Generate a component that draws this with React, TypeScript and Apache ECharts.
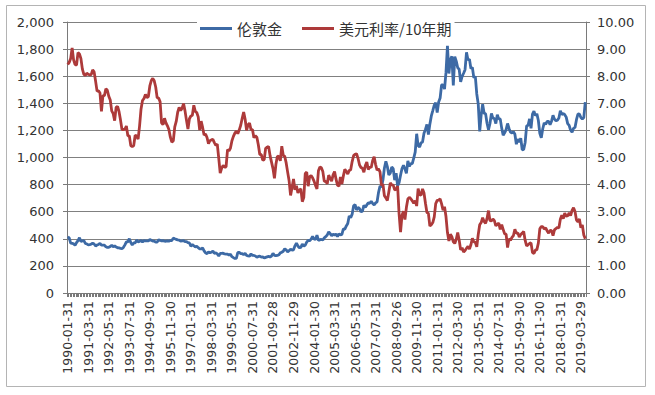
import React, { useEffect, useRef } from "react";
import * as echarts from "echarts";

const seriesNames = ["伦敦金", "美元利率/10年期"];

const tickLabels = [
  "1990-01-31", "1991-03-31", "1992-05-31", "1993-07-31", "1994-09-30", "1995-11-30",
  "1997-01-31", "1998-03-31", "1999-05-31", "2000-07-31", "2001-09-28", "2002-11-29",
  "2004-01-30", "2005-03-31", "2006-05-31", "2007-07-31", "2008-09-26", "2009-11-30",
  "2011-01-31", "2012-03-30", "2013-05-31", "2014-07-31", "2015-09-30", "2016-11-30",
  "2018-01-31", "2019-03-29",
];

// Monthly, 1990-01 .. 2019-06
const goldPrice = [
  415, 407, 368, 367, 363, 352, 372, 387, 408, 380, 384, 386,
  366, 362, 355, 357, 360, 368, 362, 347, 354, 358, 366, 353,
  354, 353, 341, 337, 337, 343, 353, 340, 349, 339, 334, 333,
  330, 328, 337, 355, 377, 378, 401, 372, 355, 369, 370, 391,
  378, 381, 389, 376, 387, 385, 384, 385, 394, 389, 383, 383,
  375, 376, 392, 389, 385, 387, 383, 382, 384, 383, 387, 387,
  405, 400, 396, 392, 390, 383, 385, 387, 379, 379, 371, 369,
  345, 358, 349, 340, 345, 334, 326, 325, 332, 311, 296, 290,
  303, 297, 301, 310, 293, 296, 288, 273, 293, 292, 294, 288,
  287, 287, 279, 286, 268, 261, 255, 255, 299, 299, 291, 290,
  283, 293, 277, 274, 272, 289, 277, 277, 273, 264, 270, 272,
  265, 267, 258, 263, 267, 270, 266, 273, 293, 278, 275, 277,
  282, 296, 301, 308, 326, 318, 304, 312, 323, 317, 319, 348,
  368, 347, 334, 337, 361, 346, 354, 375, 388, 386, 398, 417,
  399, 395, 427, 388, 393, 395, 391, 407, 416, 428, 452, 438,
  422, 435, 428, 435, 417, 435, 429, 433, 473, 470, 495, 513,
  569, 556, 582, 644, 653, 613, 632, 623, 599, 604, 646, 632,
  650, 665, 662, 677, 660, 650, 665, 673, 743, 789, 783, 834,
  923, 971, 933, 871, 885, 930, 918, 833, 884, 790, 814, 869,
  919, 942, 916, 883, 975, 934, 955, 955, 996, 1040, 1175, 1087,
  1078, 1109, 1115, 1179, 1207, 1244, 1169, 1246, 1307, 1346, 1386, 1405,
  1332, 1409, 1439, 1535, 1536, 1505, 1628, 1825, 1620, 1722, 1746, 1531,
  1744, 1711, 1662, 1651, 1558, 1598, 1622, 1648, 1776, 1719, 1726, 1657,
  1664, 1588, 1598, 1469, 1394, 1192, 1314, 1394, 1326, 1324, 1253, 1205,
  1251, 1326, 1291, 1288, 1250, 1315, 1285, 1285, 1217, 1164, 1182, 1206,
  1251, 1214, 1187, 1180, 1191, 1172, 1098, 1135, 1114, 1142, 1057, 1060,
  1111, 1234, 1237, 1285, 1215, 1320, 1342, 1309, 1322, 1273, 1178, 1146,
  1212, 1255, 1245, 1266, 1266, 1243, 1268, 1312, 1283, 1271, 1275, 1291,
  1345, 1317, 1325, 1316, 1298, 1250, 1237, 1201, 1187, 1215, 1222, 1279,
  1321, 1320, 1295, 1284, 1295, 1409,
];

const treasury10y = [
  8.43, 8.51, 8.65, 9.04, 8.6, 8.43, 8.41, 8.87, 8.82, 8.65, 8.26, 8.07,
  8.03, 8.11, 8.07, 8.05, 8.06, 8.23, 8.16, 7.82, 7.45, 7.46, 7.38, 6.7,
  7.28, 7.28, 7.54, 7.48, 7.26, 7.12, 6.72, 6.62, 6.36, 6.85, 6.89, 6.69,
  6.38, 6.03, 6.03, 6.05, 6.16, 5.8, 5.8, 5.44, 5.4, 5.44, 5.82, 5.79,
  5.68, 6.17, 6.79, 7.1, 7.18, 7.33, 7.21, 7.25, 7.64, 7.84, 7.92, 7.83,
  7.6, 7.2, 7.2, 7.06, 6.28, 6.21, 6.45, 6.28, 6.17, 6.03, 5.75, 5.57,
  5.61, 6.13, 6.33, 6.67, 6.85, 6.73, 6.82, 6.99, 6.72, 6.37, 6.05, 6.43,
  6.53, 6.56, 6.93, 6.7, 6.66, 6.5, 6.01, 6.34, 6.11, 5.83, 5.87, 5.74,
  5.51, 5.62, 5.65, 5.67, 5.55, 5.45, 5.49, 4.98, 4.42, 4.61, 4.71, 4.65,
  4.65, 5.29, 5.24, 5.35, 5.62, 5.78, 5.9, 5.97, 5.88, 6.02, 6.19, 6.45,
  6.68, 6.41, 6.0, 6.21, 6.27, 6.03, 6.03, 5.73, 5.8, 5.75, 5.47, 5.11,
  5.11, 4.9, 4.92, 5.34, 5.38, 5.41, 5.07, 4.83, 4.59, 4.23, 4.75, 5.05,
  5.03, 4.88, 5.42, 5.08, 5.04, 4.8, 4.46, 4.14, 3.6, 3.89, 4.21, 3.81,
  3.96, 3.69, 3.8, 3.84, 3.37, 3.52, 4.41, 4.46, 3.94, 4.29, 4.33, 4.25,
  4.13, 3.97, 3.84, 4.51, 4.65, 4.62, 4.48, 4.12, 4.12, 4.03, 4.35, 4.22,
  4.13, 4.36, 4.48, 4.2, 3.98, 3.94, 4.28, 4.02, 4.32, 4.56, 4.49, 4.39,
  4.52, 4.55, 4.85, 5.07, 5.12, 5.14, 4.97, 4.73, 4.63, 4.6, 4.46, 4.7,
  4.83, 4.56, 4.65, 4.63, 4.89, 5.03, 4.74, 4.53, 4.58, 4.47, 3.97, 4.02,
  3.59, 3.51, 3.41, 3.73, 4.06, 3.99, 3.98, 3.81, 3.82, 3.95, 2.93, 2.25,
  2.87, 3.02, 2.71, 3.16, 3.47, 3.53, 3.48, 3.4, 3.31, 3.41, 3.21, 3.85,
  3.63, 3.61, 3.84, 3.69, 3.31, 2.97, 2.94, 2.47, 2.52, 2.6, 2.81, 3.3,
  3.42, 3.43, 3.47, 3.29, 3.06, 3.18, 2.82, 2.23, 1.92, 2.17, 2.08, 1.89,
  1.83, 1.98, 2.23, 1.95, 1.59, 1.67, 1.51, 1.57, 1.65, 1.72, 1.62, 1.78,
  2.02, 1.89, 1.87, 1.7, 2.16, 2.52, 2.6, 2.78, 2.64, 2.57, 2.75, 3.04,
  2.67, 2.66, 2.73, 2.67, 2.48, 2.53, 2.58, 2.35, 2.52, 2.35, 2.18, 2.17,
  1.68, 2.0, 1.94, 2.05, 2.12, 2.35, 2.2, 2.22, 2.06, 2.16, 2.21, 2.27,
  1.94, 1.74, 1.78, 1.83, 1.85, 1.49, 1.46, 1.58, 1.6, 1.84, 2.37, 2.45,
  2.45, 2.36, 2.4, 2.29, 2.21, 2.31, 2.3, 2.12, 2.33, 2.38, 2.42, 2.4,
  2.72, 2.87, 2.74, 2.95, 2.83, 2.85, 2.96, 2.86, 3.05, 3.15, 3.01, 2.69,
  2.63, 2.73, 2.41, 2.51, 2.14, 2.0,
];

const labelStep = 14;

function pad(n: number): string {
  return n < 10 ? "0" + n : String(n);
}

function buildCategories(): string[] {
  const cats: string[] = [];
  for (let i = 0; i < goldPrice.length; i++) {
    const y = 1990 + Math.floor(i / 12);
    const m = (i % 12) + 1;
    const d = new Date(Date.UTC(y, m, 0)).getUTCDate();
    cats.push(`${y}-${pad(m)}-${pad(d)}`);
  }
  tickLabels.forEach((t, k) => {
    if (k * labelStep < cats.length) cats[k * labelStep] = t;
  });
  return cats;
}

export default function App() {
  const ref = useRef<HTMLDivElement>(null);

  useEffect(() => {
    if (!ref.current) return;
    const chart = echarts.init(ref.current, undefined, { renderer: "svg" });
    const categories = buildCategories();
    const axisColor = "#7a7a7a";
    const font = "DejaVu Sans";

    chart.setOption({
      animation: false,
      backgroundColor: "#ffffff",
      graphic: [
        {
          type: "rect",
          z: -1,
          shape: { x: 6.5, y: 5.5, width: 639, height: 381 },
          style: { fill: "transparent", stroke: "#b4b4b4", lineWidth: 1 },
        },
      ],
      legend: {
        data: seriesNames,
        left: 197,
        top: 19,
        padding: [2, 3],
        backgroundColor: "#ffffff",
        icon: "rect",
        itemWidth: 32,
        itemHeight: 3,
        itemGap: 20,
        textStyle: {
          fontFamily: "Noto Sans CJK SC",
          fontSize: 15,
          color: "#333333",
        },
      },
      grid: { left: 67, right: 69, top: 22, bottom: 102 },
      xAxis: {
        type: "category",
        data: categories,
        boundaryGap: true,
        axisLine: { show: true, lineStyle: { color: axisColor, width: 1 } },
        axisTick: {
          show: true,
          interval: 0,
          length: 4,
          lineStyle: { color: axisColor },
        },
        axisLabel: {
          interval: labelStep - 1,
          rotate: 90,
          fontFamily: font,
          fontSize: 12.5,
          color: "#333333",
          margin: 8,
        },
        splitLine: { show: false },
      },
      yAxis: [
        {
          type: "value",
          position: "left",
          min: 0,
          max: 2000,
          interval: 200,
          axisLine: { show: true, lineStyle: { color: axisColor } },
          axisTick: { show: true, length: 4, lineStyle: { color: axisColor } },
          axisLabel: {
            fontFamily: font,
            fontSize: 13,
            color: "#333333",
            margin: 13,
            formatter: (v: number) => v.toLocaleString("en-US"),
          },
          splitLine: { show: true, lineStyle: { color: "#808080", width: 1 } },
        },
        {
          type: "value",
          position: "right",
          min: 0,
          max: 10,
          interval: 1,
          axisLine: { show: true, lineStyle: { color: axisColor } },
          axisTick: { show: true, length: 4, lineStyle: { color: axisColor } },
          axisLabel: {
            fontFamily: font,
            fontSize: 13,
            color: "#333333",
            margin: 11,
            formatter: (v: number) => v.toFixed(2),
          },
          splitLine: { show: false },
        },
      ],
      series: [
        {
          name: seriesNames[0],
          type: "line",
          yAxisIndex: 0,
          data: goldPrice,
          showSymbol: false,
          symbol: "none",
          lineStyle: { color: "#3d6aa5", width: 2.8 },
          itemStyle: { color: "#3d6aa5" },
        },
        {
          name: seriesNames[1],
          type: "line",
          yAxisIndex: 1,
          data: treasury10y,
          showSymbol: false,
          symbol: "none",
          lineStyle: { color: "#ad3a3a", width: 2.8 },
          itemStyle: { color: "#ad3a3a" },
        },
      ],
    });

    return () => chart.dispose();
  }, []);

  return (
    <div
      ref={ref}
      style={{ position: "fixed", left: 0, top: 0, width: 655, height: 395, background: "#fff" }}
    />
  );
}
